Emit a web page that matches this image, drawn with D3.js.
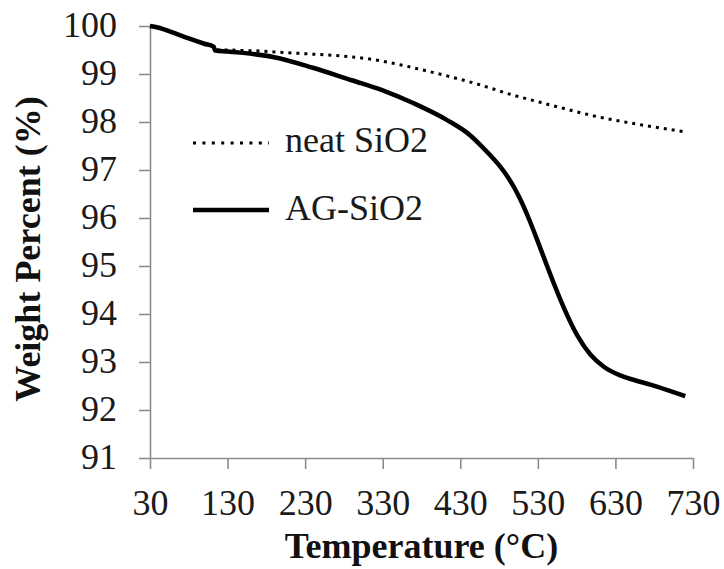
<!DOCTYPE html>
<html>
<head>
<meta charset="utf-8">
<script src="https://cdn.jsdelivr.net/npm/d3@7/dist/d3.min.js"></script>
<style>
  html, body { margin: 0; padding: 0; background: #fff; }
  svg { display: block; }
  svg text { font-family: "Liberation Serif", "Times New Roman", serif; }
</style>
</head>
<body>
<svg id="chart" width="724" height="569"></svg>
<script>
// Thermogravimetric curves: temperature (°C) vs weight percent (%)
const xTicks = [30, 130, 230, 330, 430, 530, 630, 730];
const yTicks = [91, 92, 93, 94, 95, 96, 97, 98, 99, 100];

const agTemp   = [30, 40, 60, 80, 100, 112, 114, 130, 150, 190, 240, 290, 330, 370, 413, 443, 456, 469, 481, 491, 500, 507, 518, 529, 540, 551, 563, 581, 598, 615, 636, 655, 675, 700, 720];
const agWeight = [100, 99.97, 99.86, 99.74, 99.63, 99.57, 99.49, 99.47, 99.44, 99.35, 99.13, 98.87, 98.66, 98.39, 98.04, 97.72, 97.52, 97.3, 97.08, 96.86, 96.62, 96.4, 96.0, 95.55, 95.08, 94.62, 94.15, 93.55, 93.15, 92.9, 92.72, 92.62, 92.53, 92.4, 92.29];

const neatTemp   = [30, 40, 60, 80, 100, 112, 114, 130, 150, 170, 190, 233, 280, 318, 350, 380, 413, 450, 498, 533, 559, 607, 660, 718];
const neatWeight = [100, 99.97, 99.86, 99.74, 99.63, 99.57, 99.5, 99.5, 99.49, 99.48, 99.46, 99.42, 99.37, 99.3, 99.2, 99.09, 98.96, 98.8, 98.56, 98.41, 98.3, 98.11, 97.95, 97.8];

const seriesNames = ["neat SiO2", "AG-SiO2"];
const xTitle = "Temperature (°C)";
const yTitle = "Weight Percent (%)";

const FONT = "Liberation Serif, Times New Roman, serif";
const AXIS_GREY = "#8c8c8c";

const svg = d3.select("#chart");

const x = d3.scaleLinear().domain([30, 730]).range([150, 693]);
const y = d3.scaleLinear().domain([91, 100]).range([458, 26]);

// Axes
const gx = svg.append("g")
  .attr("transform", `translate(0,${y(91)})`)
  .call(d3.axisBottom(x).tickValues(xTicks).tickSize(11).tickSizeOuter(0).tickFormat(d3.format("d")));
const gy = svg.append("g")
  .attr("transform", `translate(${x(30)},0)`)
  .call(d3.axisLeft(y).tickValues(yTicks).tickSize(11).tickSizeOuter(0).tickPadding(22).tickFormat(d3.format("d")));

[gx, gy].forEach(g => {
  g.attr("font-family", FONT).attr("font-size", 36);
  g.select(".domain").attr("stroke", AXIS_GREY).attr("stroke-width", 1.6);
  g.selectAll(".tick line").attr("stroke", AXIS_GREY).attr("stroke-width", 1.6);
  g.selectAll(".tick text")
    .attr("fill", "#1a1a1a")
    .attr("font-family", FONT)
    .attr("font-size", 36);
});
gx.selectAll(".tick text").attr("y", 57).attr("dy", null);
gy.selectAll(".tick text").attr("dy", "0.3em");

// Axis titles
svg.append("text")
  .attr("x", (x(30) + x(730)) / 2)
  .attr("y", 558)
  .attr("text-anchor", "middle")
  .attr("font-family", FONT)
  .attr("font-size", 36)
  .attr("font-weight", "bold")
  .attr("fill", "#111")
  .text(xTitle);

svg.append("text")
  .attr("transform", "translate(40,249) rotate(-90)")
  .attr("text-anchor", "middle")
  .attr("font-family", FONT)
  .attr("font-size", 36)
  .attr("font-weight", "bold")
  .attr("fill", "#111")
  .text(yTitle);

// Curves
const line = d3.line()
  .x(d => x(d[0]))
  .y(d => y(d[1]))
  .curve(d3.curveMonotoneX);

const agData = agTemp.map((t, i) => [t, agWeight[i]]);
const neatData = neatTemp.map((t, i) => [t, neatWeight[i]]);

svg.append("path")
  .datum(agData)
  .attr("d", line)
  .attr("fill", "none")
  .attr("stroke", "#000")
  .attr("stroke-width", 4.5)
  .attr("stroke-linejoin", "round");

svg.append("path")
  .datum(neatData)
  .attr("d", line)
  .attr("fill", "none")
  .attr("stroke", "#000")
  .attr("stroke-width", 3)
  .attr("stroke-dasharray", "3 5");

// Legend
const legend = svg.append("g");
const legendItems = [
  { name: seriesNames[0], y: 143, width: 3, dash: "3 6.4", textY: 152 },
  { name: seriesNames[1], y: 210, width: 4.5, dash: null, textY: 220 }
];
legendItems.forEach(item => {
  legend.append("line")
    .attr("x1", 193).attr("x2", 269)
    .attr("y1", item.y).attr("y2", item.y)
    .attr("stroke", "#000")
    .attr("stroke-width", item.width)
    .attr("stroke-dasharray", item.dash);
  legend.append("text")
    .attr("x", 285)
    .attr("y", item.textY)
    .attr("font-family", FONT)
    .attr("font-size", 36)
    .attr("fill", "#1a1a1a")
    .text(item.name);
});
</script>
</body>
</html>
